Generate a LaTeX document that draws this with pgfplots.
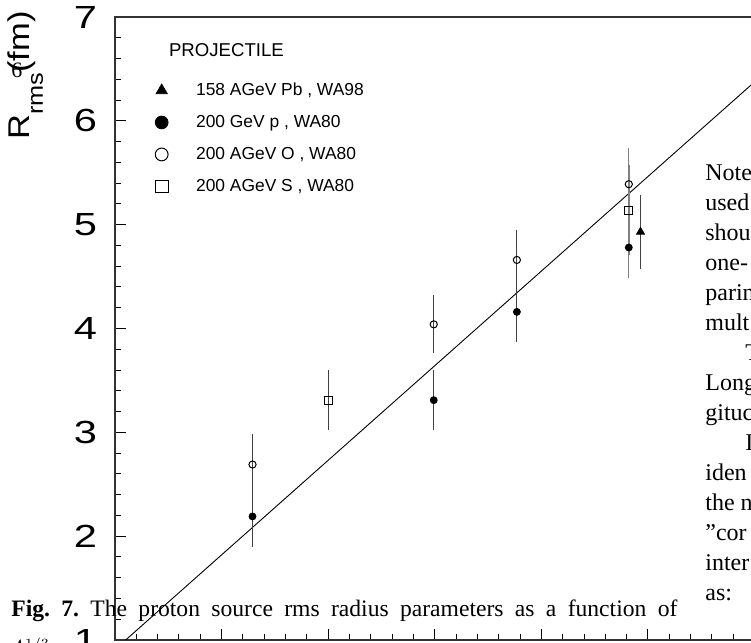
\documentclass[border=0pt]{standalone}
\usepackage{fontspec}
\setmainfont{Liberation Serif}
\setsansfont{Liberation Sans}
\usepackage{pgfplots}
\pgfplotsset{compat=1.18}
\usepackage{pgfplotstable}

% x = A^{1/3} of the target, y = R_rms (fm), e = error
\pgfplotstableread{
x y e
5.93 4.93 0.355
}\pbdata
\pgfplotstableread{
x y e
2.29 2.19 0.29
3.99 3.31 0.29
4.77 4.16 0.29
}\pdata
\pgfplotstableread{
x y e
2.29 2.69 0.29
3.99 4.04 0.28
4.77 4.66 0.29
}\odata
\pgfplotstableread{
x y e
3.00 3.31 0.29
}\sdata
% the gold target column, drawn with grey bars
\pgfplotstableread{
x y e
5.82 4.78 0.29
}\pau
\pgfplotstableread{
x y e
5.82 5.39 0.35
}\oau
\pgfplotstableread{
x y e
5.82 5.14 0.43
}\sau

\begin{document}
\begin{tikzpicture}
\begin{scope}
\clip (-57.5pt,-1.5pt) rectangle (318pt,320pt);
\begin{axis}[
    at={(0,0)}, anchor=south west,
    width=319.8pt, height=311.5pt, scale only axis,
    xmin=1, xmax=7, ymin=1, ymax=7,
    xtick={1,...,7}, ytick={1,...,7},
    minor x tick num=4, minor y tick num=4,
    xticklabel=\empty,
    tick pos=left, tick align=inside,
    major tick length=5.5pt, minor tick length=3pt,
    every tick/.style={black, line width=0.5pt},
    axis line style={black!80, line width=0.7pt},
    /pgf/number format/assume math mode=true,
    yticklabel={\scalebox{1.3}[1]{\pgfmathprintnumber{\tick}}},
    yticklabel style={font=\sffamily\fontsize{16}{16}\selectfont, xshift=-5.5pt},
    legend cell align=left,
    legend image post style={mark size=3.2pt},
    legend style={at={(rel axis cs:0.053,0.902)}, anchor=north west,
        draw=none, fill=none, column sep=14pt, row sep=8pt,
        nodes={inner sep=0pt, text height=6.5pt, text depth=1.5pt},
        font=\sffamily\fontsize{8.7}{10}\selectfont},
    err/.style={error bars/.cd, y dir=both, y explicit, error mark=none,
        error bar style={line width=0.5pt, black!75}},
    errg/.style={error bars/.cd, y dir=both, y explicit, error mark=none,
        error bar style={line width=#1, black!50}},
]
\addplot[black, line width=0.45pt, forget plot] coordinates {(1.10,1) (7,6.375)};

\addplot[only marks, black, mark=triangle*, mark size=2.3pt, err]
    table[x=x, y=y, y error=e] {\pbdata};
\addlegendentry{158 AGeV Pb , WA98}
\addplot[only marks, black, mark=*, mark size=1.75pt, err]
    table[x=x, y=y, y error=e] {\pdata};
\addlegendentry{200 GeV p , WA80}
\addplot[only marks, black, mark=o, mark size=1.8pt,
    mark options={fill=white, line width=0.5pt}, err]
    table[x=x, y=y, y error=e] {\odata};
\addlegendentry{200 AGeV O , WA80}
\addplot[only marks, black, mark=square, mark size=2pt,
    mark options={fill=white, line width=0.5pt}, err]
    table[x=x, y=y, y error=e] {\sdata};
\addlegendentry{200 AGeV S , WA80}

\addplot[only marks, black, mark=*, mark size=1.75pt, forget plot, errg=0.6pt]
    table[x=x, y=y, y error=e] {\pau};
\addplot[only marks, black, mark=o, mark size=1.8pt,
    mark options={fill=white, line width=0.5pt}, forget plot, errg=0.6pt]
    table[x=x, y=y, y error=e] {\oau};
\addplot[only marks, black, mark=square, mark size=2pt,
    mark options={fill=white, line width=0.5pt}, forget plot, errg=1.3pt]
    table[x=x, y=y, y error=e] {\sau};

\node[anchor=base west, font=\sffamily\fontsize{9.3}{10}\selectfont]
    at (rel axis cs:0.0735,0.937) {PROJECTILE};
\end{axis}

% y label, set by hand for the lowered subscript
\node[rotate=90, anchor=base west, inner sep=0pt, font=\sffamily\fontsize{15}{15}\selectfont]
    at (-42.5pt,250pt) {\scalebox{1.15}[1]{R\raisebox{-6.5pt}{\fontsize{11}{11}\selectfont rms}(fm)}};

% text of the page around the scanned figure
\node[anchor=center, font=\fontsize{11}{11}\selectfont] at (-49pt,285pt) {6};
\node[anchor=base west, inner sep=0pt, font=\fontsize{11.8}{13}\selectfont]
    at (-52pt,11.5pt) {\frenchspacing\makebox[333pt][s]{\textbf{Fig. 7.} The proton source rms radius parameters as a function of}};
\node[anchor=base west, inner sep=0pt, font=\fontsize{10.6}{13}\selectfont]
    at (-53.5pt,-8pt) {$A^{1/3}$.};
\node[anchor=base west, inner sep=0pt, font=\fontsize{12}{15}\selectfont]
    at (295pt,229.5pt) {\parbox[t]{80pt}{\raggedright Note\\used\\shou\\one-\\parin\\mult\\\hspace*{20pt}T\\Long\\gituc\\\hspace*{20pt}I\\iden\\the n\\”cor\\inter\\as:}};
\end{scope}
\pgfresetboundingbox
\useasboundingbox (-57.5pt,-1.5pt) rectangle (318pt,320pt);
\end{tikzpicture}
\end{document}
